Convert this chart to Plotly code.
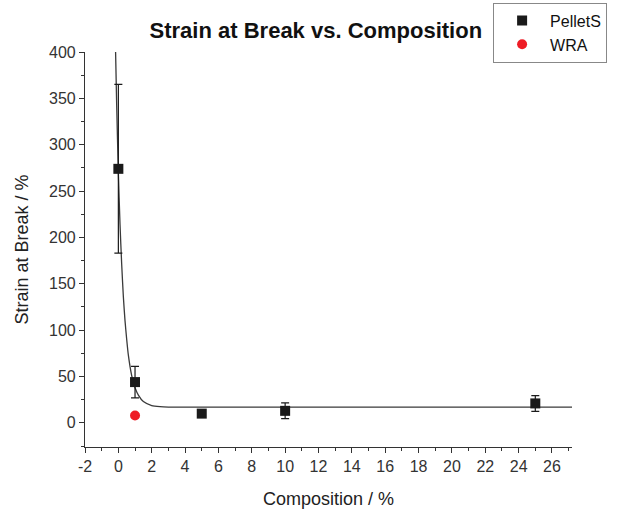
import plotly.graph_objects as go

# Measured samples
pellet_comp = [0, 1, 5, 10, 25]
pellet_strain = [274, 44, 10, 13, 21]
pellet_err = [91, 17, 0, 8.5, 8.5]

wra_comp = [1]
wra_strain = [8]

# Exponential decay fit line through the PelletS data
fit_comp = [-0.166, -0.1, 0, 0.1, 0.2, 0.3, 0.4, 0.5, 0.6, 0.8, 1.0, 1.2,
            1.5, 2.0, 2.5, 3.0, 5.0, 10.0, 27.2]
fit_strain = [400, 342, 270, 214, 171, 136, 110, 90, 73, 51, 38, 30,
              23, 18.7, 17.5, 17.1, 17, 17, 17]

x_ticks = list(range(-2, 27, 2))
x_tick_text = [str(v) for v in x_ticks]
y_ticks = list(range(0, 401, 50))

FONT = "Liberation Sans, Arial, sans-serif"

fig = go.Figure()

fig.add_trace(go.Scatter(
    x=fit_comp, y=fit_strain, mode="lines",
    line=dict(color="#3a3a3a", width=1.3, shape="spline", smoothing=0.6),
    showlegend=False, hoverinfo="skip",
))

fig.add_trace(go.Scatter(
    x=pellet_comp, y=pellet_strain, mode="markers", name="PelletS",
    marker=dict(symbol="square", size=10, color="#1a1a1a"),
    error_y=dict(type="data", array=pellet_err, visible=True,
                 color="#1a1a1a", thickness=1.2, width=4),
))

fig.add_trace(go.Scatter(
    x=wra_comp, y=wra_strain, mode="markers", name="WRA",
    marker=dict(symbol="circle", size=10, color="#ee1c25"),
))

axis_common = dict(
    showline=True, linecolor="#333333", linewidth=1.2,
    ticks="outside", ticklen=5, tickwidth=1.2, tickcolor="#333333",
    showgrid=False, zeroline=False, mirror=False, automargin=False,
    tickfont=dict(family=FONT, size=16, color="#333333"),
)

fig.update_xaxes(
    range=[-2, 27.2], tickvals=x_ticks, ticktext=x_tick_text,
    minor=dict(dtick=1, tick0=0, ticks="outside", ticklen=3,
               tickcolor="#333333", tickwidth=1),
    title=dict(text="Composition / %", font=dict(family=FONT, size=18, color="#222222"),
               standoff=18),
    **axis_common,
)
fig.update_yaxes(
    range=[-26, 400], tickvals=y_ticks,
    minor=dict(dtick=25, tick0=0, ticks="outside", ticklen=3,
               tickcolor="#333333", tickwidth=1),
    title=dict(text="Strain at Break / %", font=dict(family=FONT, size=18, color="#222222"),
               standoff=15),
    **axis_common,
)

fig.update_layout(
    width=618, height=510,
    margin=dict(l=85, r=46, t=52, b=63, autoexpand=False),
    paper_bgcolor="white", plot_bgcolor="white",
    title=dict(text="<b>Strain at Break vs. Composition</b>",
               font=dict(family=FONT, size=22, color="#111111"),
               xref="paper", x=0.474, xanchor="center",
               yref="container", y=0.941, yanchor="middle"),
    legend=dict(x=0.838, y=1.125, xanchor="left", yanchor="top",
                bordercolor="#888888", borderwidth=1, bgcolor="white",
                font=dict(family=FONT, size=16, color="#111111"),
                itemwidth=46, tracegroupgap=0),
    showlegend=True,
)

fig.write_html("out.html")
